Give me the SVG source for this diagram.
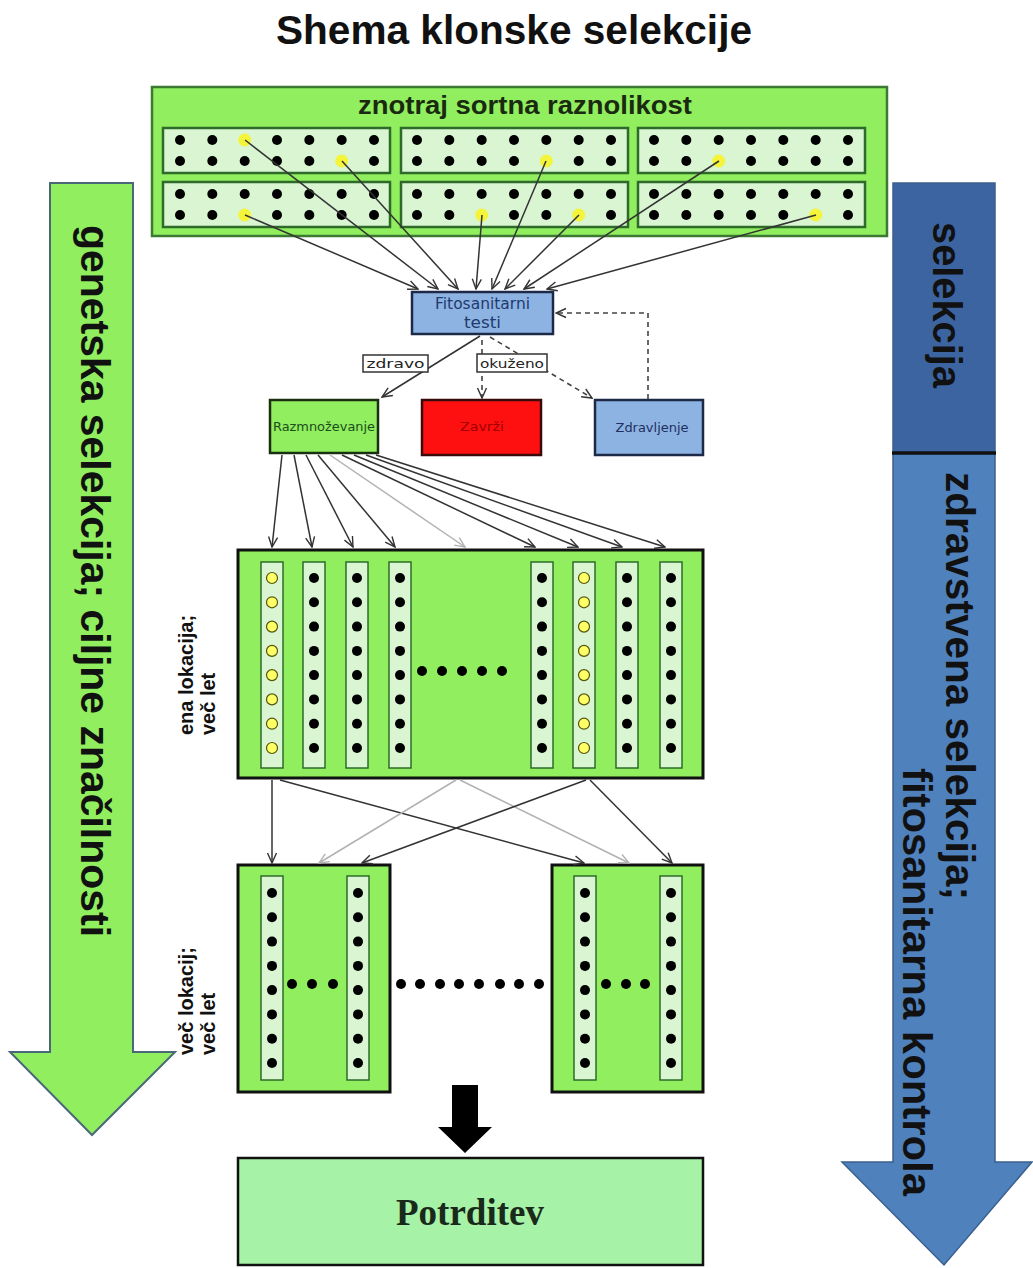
<svg xmlns="http://www.w3.org/2000/svg" xmlns:xlink="http://www.w3.org/1999/xlink" width="1033" height="1268" viewBox="0 0 1033 1268">
<style>
.sans{font-family:"Liberation Sans",Arial,sans-serif}
.dv{font-family:"DejaVu Sans",Verdana,sans-serif}
.b{font-weight:bold}
.c{stroke:#333;stroke-width:1.5;fill:none;marker-end:url(#a)}
.cg{stroke:#b2b2b2;stroke-width:1.5;fill:none;marker-end:url(#ag)}
.dash{stroke:#444;stroke-width:1.6;stroke-dasharray:5 4;fill:none;marker-end:url(#a)}
.big{fill:#90ee5f;stroke:#111;stroke-width:3}
.strip{fill:#d9f5d2;stroke:#2e6b2a;stroke-width:1.5}
.sub{fill:#d9f5d2;stroke:#2e6b2a;stroke-width:2.5}
.lbl{fill:#fff;stroke:#333;stroke-width:1.5}
</style>
<defs>
<marker id="a" viewBox="0 0 12 12" refX="11" refY="6" markerWidth="12" markerHeight="12" markerUnits="userSpaceOnUse" orient="auto"><path d="M1,1.5 L11,6 L1,10.5" fill="none" stroke="#333" stroke-width="1.4"/></marker>
<marker id="ag" viewBox="0 0 12 12" refX="11" refY="6" markerWidth="12" markerHeight="12" markerUnits="userSpaceOnUse" orient="auto"><path d="M1,1.5 L11,6 L1,10.5" fill="none" stroke="#b2b2b2" stroke-width="1.4"/></marker>
<circle id="k" r="5" fill="#000"/>
<circle id="yl" r="6.5" fill="#f4f43a"/>
<circle id="yo" r="5.5" fill="#ffff66" stroke="#55550a" stroke-width="1.2"/>
<g id="row7"><use href="#k" x="0"/><use href="#k" x="32.3"/><use href="#k" x="64.7"/><use href="#k" x="97"/><use href="#k" x="129.3"/><use href="#k" x="161.7"/><use href="#k" x="194"/></g>
<g id="colk"><use href="#k" y="0"/><use href="#k" y="24.3"/><use href="#k" y="48.6"/><use href="#k" y="72.9"/><use href="#k" y="97.1"/><use href="#k" y="121.4"/><use href="#k" y="145.7"/><use href="#k" y="170"/></g>
<g id="coly"><use href="#yo" y="0"/><use href="#yo" y="24.3"/><use href="#yo" y="48.6"/><use href="#yo" y="72.9"/><use href="#yo" y="97.1"/><use href="#yo" y="121.4"/><use href="#yo" y="145.7"/><use href="#yo" y="170"/></g>
</defs>
<rect width="1033" height="1268" fill="#fff"/>

<g id="title"><text class="sans b" x="514" y="44" font-size="40" text-anchor="middle" textLength="476" lengthAdjust="spacingAndGlyphs" fill="#111">Shema klonske selekcije</text></g>

<g id="arrow-genetska">
<path d="M50,183 H133 V1052 H175 L92,1135 L10,1052 H50 Z" fill="#90ee5f" stroke="#4a6878" stroke-width="2"/>
<text class="sans b" transform="translate(81,225) rotate(90)" font-size="40" textLength="712" lengthAdjust="spacingAndGlyphs" fill="#111">genetska selekcija; ciljne značilnosti</text>
</g>

<g id="arrow-zdravstvena">
<path d="M893,453 H995 V1162 H1032 L944,1265 L842,1162 H893 Z" fill="#4f81bd" stroke="#3a5f8f" stroke-width="1.5"/>
<rect x="893" y="183" width="102" height="270" fill="#3c64a0" stroke="#3a5f8f" stroke-width="1.5"/>
<line x1="892" y1="453" x2="996" y2="453" stroke="#111" stroke-width="3.5"/>
<text class="sans b" transform="translate(933,222) rotate(90)" font-size="40" textLength="166" lengthAdjust="spacingAndGlyphs" fill="#111">selekcija</text>
<text class="sans b" transform="translate(946,472) rotate(90)" font-size="40" textLength="428" lengthAdjust="spacingAndGlyphs" fill="#111">zdravstvena selekcija;</text>
<text class="sans b" transform="translate(903,768) rotate(90)" font-size="40" textLength="428" lengthAdjust="spacingAndGlyphs" fill="#111">fitosanitarna kontrola</text>
</g>

<g id="sortna-raznolikost">
<rect x="152" y="87" width="735" height="149" fill="#90ee5f" stroke="#3b7a30" stroke-width="2.5"/>
<text class="sans b" x="525" y="114" font-size="25" text-anchor="middle" textLength="334" lengthAdjust="spacingAndGlyphs" fill="#1a2a10">znotraj sortna raznolikost</text>
<rect class="sub" x="163" y="128" width="227" height="45"/>
<rect class="sub" x="401" y="128" width="227" height="45"/>
<rect class="sub" x="638" y="128" width="227" height="45"/>
<rect class="sub" x="163" y="182" width="227" height="45"/>
<rect class="sub" x="401" y="182" width="227" height="45"/>
<rect class="sub" x="638" y="182" width="227" height="45"/>
<use href="#row7" x="180" y="140"/><use href="#row7" x="417" y="140"/><use href="#row7" x="654" y="140"/>
<use href="#row7" x="180" y="161"/><use href="#row7" x="417" y="161"/><use href="#row7" x="654" y="161"/>
<use href="#row7" x="180" y="194"/><use href="#row7" x="417" y="194"/><use href="#row7" x="654" y="194"/>
<use href="#row7" x="180" y="215"/><use href="#row7" x="417" y="215"/><use href="#row7" x="654" y="215"/>
<use href="#yl" x="244.7" y="140"/><use href="#yl" x="341.7" y="161"/><use href="#yl" x="244.7" y="215"/>
<use href="#yl" x="546.3" y="161"/><use href="#yl" x="481.7" y="215"/><use href="#yl" x="578.7" y="215"/>
<use href="#yl" x="718.7" y="161"/><use href="#yl" x="815.7" y="215"/>
</g>

<g id="fitosanitarni-testi">
<rect x="412" y="292" width="141" height="42" fill="#8db3e2" stroke="#1c2a48" stroke-width="2.5"/>
<text class="dv" x="482.5" y="309" font-size="15" text-anchor="middle" textLength="95" lengthAdjust="spacingAndGlyphs" fill="#1f3a6e">Fitosanitarni</text>
<text class="dv" x="482.5" y="328" font-size="15" text-anchor="middle" textLength="37" lengthAdjust="spacingAndGlyphs" fill="#1f3a6e">testi</text>
</g>

<g id="razmnozevanje">
<rect x="270" y="400" width="108" height="53" fill="#90ee5f" stroke="#1a2e10" stroke-width="2.5"/>
<text class="dv" x="324" y="431" font-size="12" text-anchor="middle" textLength="102" lengthAdjust="spacingAndGlyphs" fill="#1a4d1a">Razmnoževanje</text>
</g>

<g id="zavrzi">
<rect x="422" y="400" width="119" height="55" fill="#ff1010" stroke="#3a0a0a" stroke-width="2.5"/>
<text class="dv" x="482" y="431" font-size="12" text-anchor="middle" textLength="44" lengthAdjust="spacingAndGlyphs" fill="#a00000">Zavrži</text>
</g>

<g id="zdravljenje">
<rect x="595" y="400" width="108" height="55" fill="#8db3e2" stroke="#1c2a48" stroke-width="2.5"/>
<text class="dv" x="652" y="432" font-size="12" text-anchor="middle" textLength="73" lengthAdjust="spacingAndGlyphs" fill="#1f2f5f">Zdravljenje</text>
</g>

<g id="ena-lokacija">
<rect class="big" x="238" y="550" width="465" height="228"/>
<rect class="strip" x="261" y="562" width="22" height="206"/>
<rect class="strip" x="303" y="562" width="22" height="206"/>
<rect class="strip" x="346" y="562" width="22" height="206"/>
<rect class="strip" x="389" y="562" width="22" height="206"/>
<rect class="strip" x="531" y="562" width="22" height="206"/>
<rect class="strip" x="573" y="562" width="22" height="206"/>
<rect class="strip" x="616" y="562" width="22" height="206"/>
<rect class="strip" x="660" y="562" width="22" height="206"/>
<use href="#coly" x="272" y="578"/><use href="#colk" x="314" y="578"/><use href="#colk" x="357" y="578"/><use href="#colk" x="400" y="578"/>
<use href="#colk" x="542" y="578"/><use href="#coly" x="584" y="578"/><use href="#colk" x="627" y="578"/><use href="#colk" x="671" y="578"/>
<use href="#k" x="422" y="671"/><use href="#k" x="442" y="671"/><use href="#k" x="462" y="671"/><use href="#k" x="482" y="671"/><use href="#k" x="502" y="671"/>
<text class="sans b" transform="translate(193,735) rotate(-90)" font-size="20" fill="#111">ena lokacija;</text>
<text class="sans b" transform="translate(215,735) rotate(-90)" font-size="20" fill="#111">več let</text>
</g>

<g id="vec-lokacij-1">
<rect class="big" x="238" y="865" width="152" height="227"/>
<rect class="strip" x="261" y="876" width="22" height="204"/>
<rect class="strip" x="347" y="876" width="22" height="204"/>
<use href="#colk" x="272" y="893"/><use href="#colk" x="358" y="893"/>
<use href="#k" x="292" y="984"/><use href="#k" x="312" y="984"/><use href="#k" x="333" y="984"/>
</g>

<g id="vec-lokacij-2">
<rect class="big" x="552" y="865" width="151" height="227"/>
<rect class="strip" x="574" y="876" width="22" height="204"/>
<rect class="strip" x="660" y="876" width="22" height="204"/>
<use href="#colk" x="585" y="893"/><use href="#colk" x="671" y="893"/>
<use href="#k" x="606" y="984"/><use href="#k" x="626" y="984"/><use href="#k" x="645" y="984"/>
</g>

<g id="vec-lokacij-label">
<use href="#k" x="401" y="984"/><use href="#k" x="420" y="984"/><use href="#k" x="440" y="984"/><use href="#k" x="459" y="984"/><use href="#k" x="479" y="984"/><use href="#k" x="500" y="984"/><use href="#k" x="519" y="984"/><use href="#k" x="539" y="984"/>
<text class="sans b" transform="translate(193,1055) rotate(-90)" font-size="20" fill="#111">več lokacij;</text>
<text class="sans b" transform="translate(215,1055) rotate(-90)" font-size="20" fill="#111">več let</text>
</g>

<g id="potrditev">
<rect x="238" y="1158" width="465" height="107" fill="#a6f2a6" stroke="#111" stroke-width="2.5"/>
<text x="470" y="1225" font-family="'Liberation Serif','Times New Roman',serif" font-weight="bold" font-size="37" text-anchor="middle" fill="#1a2a1a">Potrditev</text>
</g>

<g id="connectors">
<line class="c" x1="245" y1="215" x2="418" y2="289"/>
<line class="c" x1="245" y1="140" x2="438" y2="289"/>
<line class="c" x1="342" y1="161" x2="458" y2="289"/>
<line class="c" x1="482" y1="215" x2="476" y2="289"/>
<line class="c" x1="546" y1="161" x2="492" y2="289"/>
<line class="c" x1="579" y1="215" x2="505" y2="289"/>
<line class="c" x1="719" y1="161" x2="524" y2="289"/>
<line class="c" x1="816" y1="215" x2="547" y2="289"/>

<line class="c" x1="480" y1="336" x2="382" y2="397"/>
<line class="dash" x1="490" y1="337" x2="592" y2="398"/>
<line class="dash" x1="482" y1="340" x2="482" y2="398"/>
<path class="dash" d="M648,399 V313 H556"/>

<line class="c" x1="282" y1="455" x2="272" y2="547"/>
<line class="c" x1="294" y1="455" x2="312" y2="547"/>
<line class="c" x1="306" y1="455" x2="353" y2="547"/>
<line class="c" x1="318" y1="455" x2="395" y2="547"/>
<line class="cg" x1="330" y1="455" x2="465" y2="547"/>
<line class="c" x1="342" y1="455" x2="535" y2="547"/>
<line class="c" x1="354" y1="455" x2="578" y2="547"/>
<line class="c" x1="366" y1="455" x2="622" y2="547"/>
<line class="c" x1="376" y1="455" x2="665" y2="547"/>

<line class="c" x1="272" y1="780" x2="272" y2="863"/>
<line class="c" x1="280" y1="780" x2="584" y2="863"/>
<line class="cg" x1="456" y1="780" x2="319" y2="863"/>
<line class="cg" x1="460" y1="780" x2="629" y2="863"/>
<line class="c" x1="586" y1="780" x2="362" y2="863"/>
<line class="c" x1="590" y1="780" x2="672" y2="863"/>

<polygon points="452,1085 478,1085 478,1127 492,1127 465,1153 438,1127 452,1127" fill="#000"/>

<rect class="lbl" x="363" y="355" width="65" height="17"/>
<text class="dv" x="395.5" y="368" font-size="13" text-anchor="middle" textLength="58" lengthAdjust="spacingAndGlyphs" fill="#222">zdravo</text>
<rect class="lbl" x="477" y="354" width="70" height="18"/>
<text class="dv" x="512" y="368" font-size="13" text-anchor="middle" textLength="64" lengthAdjust="spacingAndGlyphs" fill="#222">okuženo</text>
</g>
</svg>
